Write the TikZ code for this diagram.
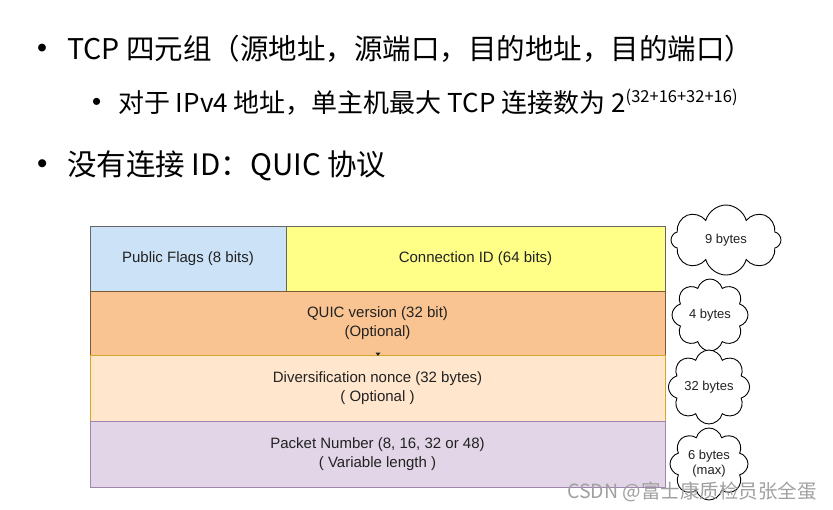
\documentclass[tikz,border=0pt]{standalone}
\usepackage{fontspec}
\setmainfont{Liberation Sans}
\newfontfamily\cjk{Noto Sans CJK SC}
\usetikzlibrary{shapes.symbols}
\definecolor{ink}{HTML}{222222}
\definecolor{flagsfill}{HTML}{CCE2F7}
\definecolor{idfill}{HTML}{FFFF88}
\definecolor{verfill}{HTML}{F9C491}
\definecolor{noncefill}{HTML}{FFE6CC}
\definecolor{noncedraw}{HTML}{D6A628}
\definecolor{pktfill}{HTML}{E1D5E7}
\definecolor{pktdraw}{HTML}{9E86AE}
\definecolor{mark}{HTML}{A0A0A0}
\newcommand{\dotmark}[1]{\makebox[#1][l]{\rmfamily\raisebox{0.05em}{•}}}

\begin{document}
\begin{tikzpicture}[x=1pt, y=-1pt, font=\fontsize{15}{19}\selectfont,
    field/.style={draw=#1, line width=1pt, inner sep=0pt, outer sep=0pt, align=center, text=ink},
    bytes/.style={cloud, cloud puffs=8, draw=black, fill=white, line width=0.9pt, inner sep=0pt, align=center, text=ink, font=\fontsize{13}{15}\selectfont},
    point/.style={anchor=base west, inner sep=0pt, font=\cjk\fontsize{28.5}{32}\selectfont}]
  \useasboundingbox (0,0) rectangle (833,509);

  % bullet text
  \node[point] (tcp) at (37,59) {\dotmark{30pt}TCP 四元组（源地址，源端口，目的地址，目的端口）};
  \node[point, font=\cjk\fontsize{26}{28}\selectfont] (ipv4) at (92,112)
    {\dotmark{26pt}对于 IPv4 地址，单主机最大 TCP 连接数为 2\raisebox{10pt}{\fontsize{16.5}{16}\selectfont (32+16+32+16)}};
  \node[point, font=\cjk\fontsize{29.5}{32}\selectfont] (quic) at (37,175) {\dotmark{30pt}没有连接 ID：QUIC 协议};

  % header fields
  \node[field=gray!80!black, fill=flagsfill, minimum width=196pt, minimum height=65pt] (flags) at (188,258.5) {Public Flags (8 bits)};
  \node[field=gray!80!black, fill=idfill, minimum width=379pt, minimum height=65pt] (connid) at (475.5,258.5) {Connection ID (64 bits)};
  \node[field=gray!60!orange!70!black, fill=verfill, minimum width=575pt, minimum height=64pt] (version) at (377.5,323) {QUIC version (32 bit)\\(Optional)};
  \node[field=noncedraw, fill=noncefill, minimum width=575pt, minimum height=66pt] (nonce) at (377.5,388) {Diversification nonce (32 bytes)\\( Optional )};
  \node[field=pktdraw, fill=pktfill, minimum width=575pt, minimum height=66pt] (pktnum) at (377.5,454) {Packet Number (8, 16, 32 or 48)\\( Variable length )};
  \fill[ink] (375.5,352.5) -- (380.5,352.5) -- (378,356) -- cycle;

  % sizes
  \node[bytes, minimum width=110pt, minimum height=70pt, aspect=1.6] (c9) at (726,240) {9 bytes};
  \node[bytes, minimum width=76pt, minimum height=72pt, aspect=1.05] (c4) at (710,315) {4 bytes};
  \node[bytes, minimum width=80pt, minimum height=66pt, aspect=1.2] (c32) at (709,387) {32 bytes};
  \node[bytes, minimum width=78pt, minimum height=72pt, aspect=1.1] (c6) at (709,464) {6 bytes\\(max)};

  % watermark
  \node[anchor=base west, inner sep=0pt, text=mark, font=\cjk\fontsize{19.5}{22}\selectfont] (csdn) at (567,498) {CSDN @富士康质检员张全蛋};
\end{tikzpicture}
\end{document}
